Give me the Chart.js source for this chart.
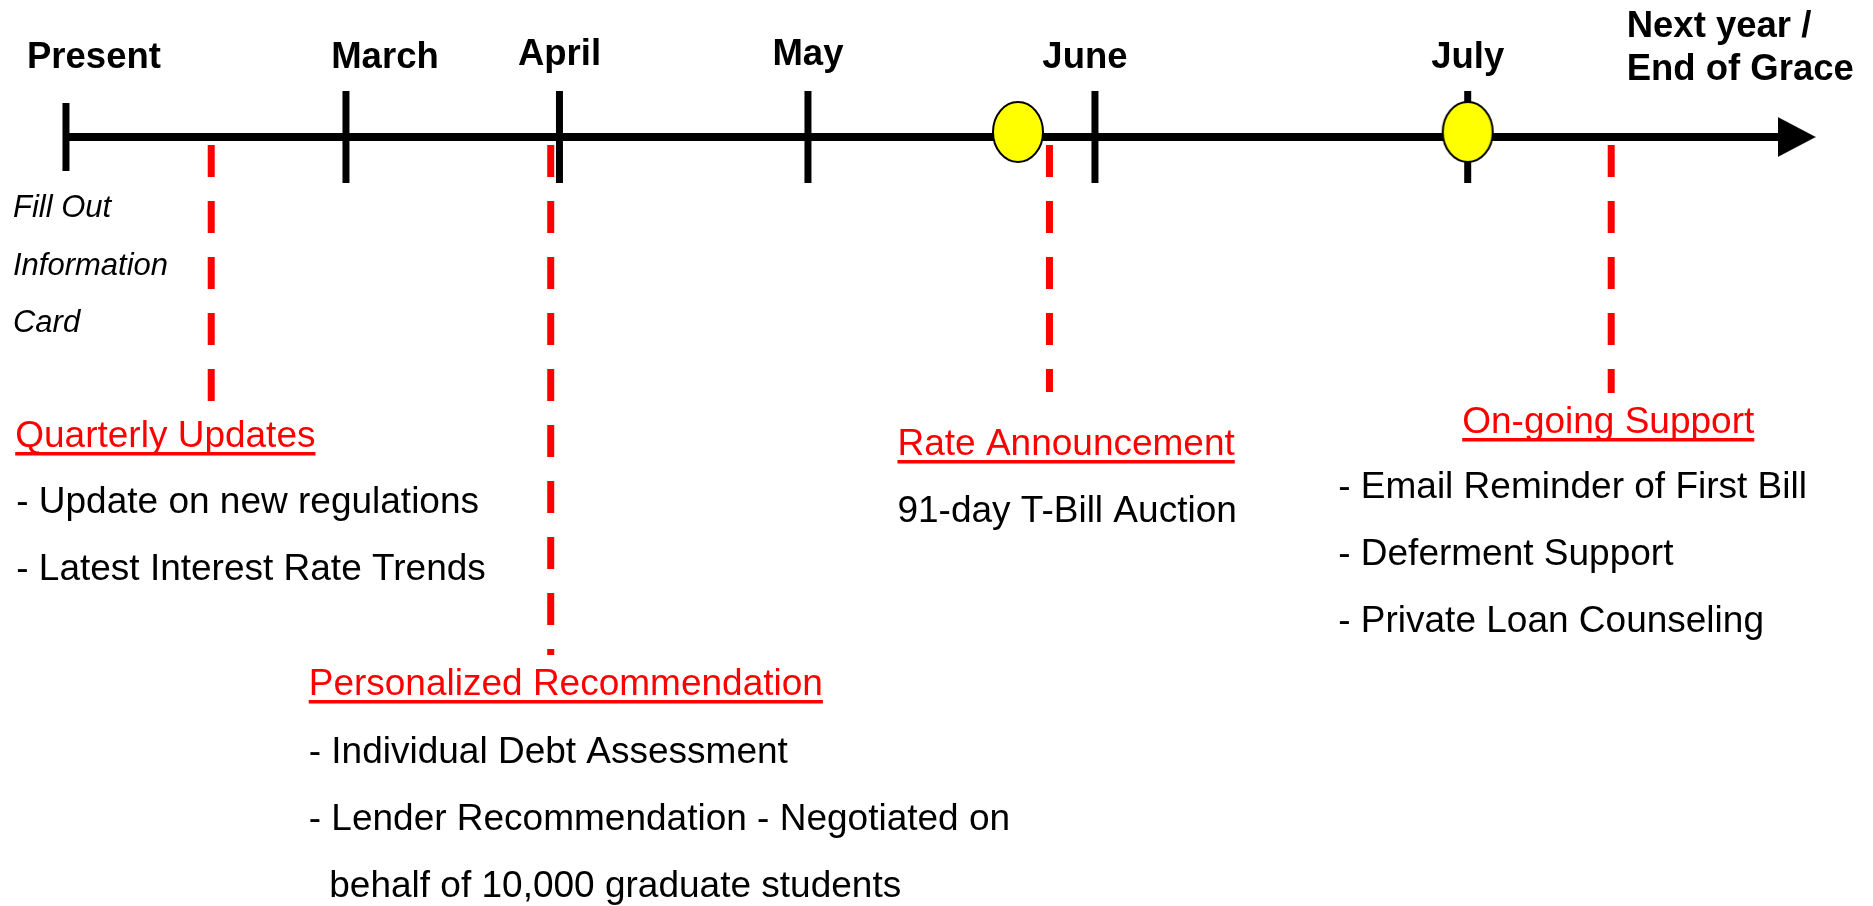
<!DOCTYPE html>
<html>
<head>
<meta charset="utf-8">
<title>Loan timeline</title>
<script src="https://cdn.jsdelivr.net/npm/chart.js@4.4.1/dist/chart.umd.min.js"></script>
<style>
  html, body { margin: 0; padding: 0; background: #fff; overflow: hidden; }
  canvas { display: block; }
</style>
</head>
<body>
<canvas id="myChart" width="1873" height="906"></canvas>
<script>
// timeline data (x = position along the timeline, 0 = present)
const milestoneLabels = ["Present", "March", "April", "May", "June", "July"];
const milestonePos = [0, 16.0, 28.2, 42.4, 58.8, 80.1];
const endLabels = ["Next year /", "End of Grace"];
const arrowPos = 98.9;
const startNote = ["Fill Out", "Information", "Card"];
const auctionPos = [54.4, 80.1];
const eventPos = [8.3, 27.7, 56.2, 88.3];
const eventTitles = ["Quarterly Updates", "Personalized Recommendation", "Rate Announcement", "On-going Support"];
const eventItems = [
  ["- Update on new regulations", "- Latest Interest Rate Trends"],
  ["- Individual Debt Assessment", "- Lender Recommendation - Negotiated on", "  behalf of 10,000 graduate students"],
  ["91-day T-Bill Auction"],
  ["- Email Reminder of First Bill", "- Deferment Support", "- Private Loan Counseling"]
];

// ====================================
// layout (pixels, relative to the timeline)
const FONT = "'Liberation Sans', Arial, Helvetica, sans-serif";
const labelShift = [28, 39, 0, 0, -10, 0];
const labelBase = [-69, -69, -72, -72, -69, -69];
const endShift = -170;
const endBase = [-100, -57];
const dropTop = -8;
const dropBottom = [-264, -518, -255, -256];
const blocks = [
  { titleDx: -196, titleBase: 310, itemDx: -195, itemBase: 376 },
  { titleDx: -242, titleBase: 558, itemDx: -242, itemBase: 626 },
  { titleDx: -152, titleBase: 318, itemDx: -152, itemBase: 385 },
  { titleDx: -149, titleBase: 296, itemDx: -273, itemBase: 361 }
];
const lineGap = 67;

// yellow ellipse marker (sits a little above the line)
const ellipseImg = document.createElement("canvas");
ellipseImg.width = 54;
ellipseImg.height = 74;
(function () {
  const c = ellipseImg.getContext("2d");
  c.beginPath();
  c.ellipse(27, 32, 25, 30, 0, 0, Math.PI * 2);
  c.fillStyle = "#FFFF00";
  c.fill();
  c.lineWidth = 2;
  c.strokeStyle = "#000";
  c.stroke();
})();

// arrow head
const arrowImg = document.createElement("canvas");
arrowImg.width = 38;
arrowImg.height = 40;
(function () {
  const c = arrowImg.getContext("2d");
  c.beginPath();
  c.moveTo(0, 0);
  c.lineTo(38, 20);
  c.lineTo(0, 40);
  c.closePath();
  c.fillStyle = "#000";
  c.fill();
})();

const textPlugin = {
  id: "timelineText",
  afterDatasetsDraw(chart) {
    const { ctx, scales: { x, y } } = chart;
    const axisY = y.getPixelForValue(0);
    ctx.save();
    ctx.textBaseline = "alphabetic";
    ctx.fillStyle = "#000";

    // month labels
    ctx.font = "bold 36.5px " + FONT;
    ctx.textAlign = "center";
    milestoneLabels.forEach((t, i) => {
      ctx.fillText(t, x.getPixelForValue(milestonePos[i]) + labelShift[i], axisY + labelBase[i]);
    });
    ctx.textAlign = "left";
    endLabels.forEach((t, i) => {
      ctx.fillText(t, x.getPixelForValue(arrowPos) + endShift, axisY + endBase[i]);
    });

    // note under present
    ctx.font = "italic 31px " + FONT;
    startNote.forEach((t, i) => {
      ctx.fillText(t, x.getPixelForValue(milestonePos[0]) - 53, axisY + 80 + i * 57.5);
    });

    // event blocks
    eventTitles.forEach((title, i) => {
      const px = x.getPixelForValue(eventPos[i]);
      const b = blocks[i];
      ctx.font = "37px " + FONT;
      ctx.fillStyle = "#FF0000";
      const tx = px + b.titleDx;
      const ty = axisY + b.titleBase;
      ctx.fillText(title, tx, ty);
      const w = ctx.measureText(title).width;
      ctx.fillRect(tx, ty + 5, w, 3.5);
      ctx.fillStyle = "#000";
      eventItems[i].forEach((t, j) => {
        ctx.fillText(t, px + b.itemDx, axisY + b.itemBase + j * lineGap);
      });
    });
    ctx.restore();
  }
};

const ctx = document.getElementById("myChart");

const chart = new Chart(ctx, {
  type: "scatter",
  data: {
    datasets: [
      {
        label: "Auction",
        data: auctionPos.map((v) => ({ x: v, y: 0 })),
        pointStyle: ellipseImg,
        pointRadius: 10
      },
      {
        label: "Arrow",
        data: [{ x: arrowPos, y: 0 }],
        pointStyle: arrowImg,
        pointRadius: 10
      },
      {
        label: "Months",
        data: milestonePos.map((v) => ({ x: v, y: 0 })),
        pointStyle: "line",
        pointRotation: 90,
        pointRadius: (c) => (c.dataIndex === 0 ? 34 : 46),
        pointBorderColor: "#000",
        pointBackgroundColor: "#000",
        pointBorderWidth: 7
      },
      ...eventPos.map((v, i) => ({
        type: "line",
        label: eventTitles[i],
        data: [{ x: v, y: dropTop }, { x: v, y: dropBottom[i] }],
        borderColor: "#FF0000",
        borderWidth: 7,
        borderDash: [32, 24],
        pointRadius: 0
      })),
      {
        type: "line",
        label: "Timeline",
        data: [{ x: milestonePos[0], y: 0 }, { x: arrowPos, y: 0 }],
        borderColor: "#000",
        borderWidth: 8,
        pointRadius: 0
      }
    ]
  },
  options: {
    responsive: false,
    animation: false,
    events: [],
    layout: { padding: 0, autoPadding: false },
    plugins: {
      legend: { display: false },
      tooltip: { enabled: false }
    },
    scales: {
      x: { type: "linear", min: -3.77, max: 103.26, display: false },
      y: { type: "linear", min: -769, max: 137, display: false }
    }
  },
  plugins: [textPlugin]
});
</script>
</body>
</html>
